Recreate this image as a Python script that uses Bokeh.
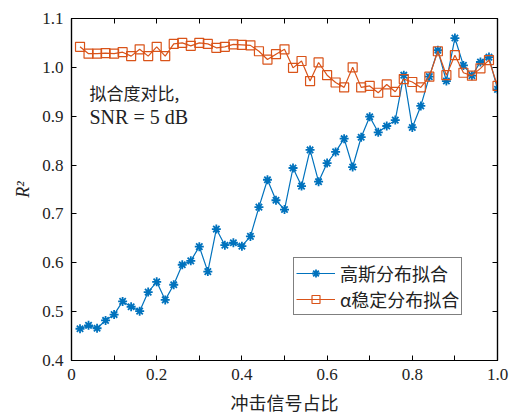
from bokeh.plotting import figure
from bokeh.models import Range1d, LinearAxis, FixedTicker, Label, Legend, LegendItem, CustomJSTickFormatter
from bokeh.embed import file_html
from bokeh.resources import INLINE

ratio = [0.02, 0.04, 0.06, 0.08, 0.10, 0.12, 0.14, 0.16, 0.18, 0.20,
         0.22, 0.24, 0.26, 0.28, 0.30, 0.32, 0.34, 0.36, 0.38, 0.40,
         0.42, 0.44, 0.46, 0.48, 0.50, 0.52, 0.54, 0.56, 0.58, 0.60,
         0.62, 0.64, 0.66, 0.68, 0.70, 0.72, 0.74, 0.76, 0.78, 0.80,
         0.82, 0.84, 0.86, 0.88, 0.90, 0.92, 0.94, 0.96, 0.98, 1.00]
gauss = [0.465, 0.472, 0.466, 0.482, 0.494, 0.521, 0.510, 0.501, 0.540, 0.561,
         0.524, 0.555, 0.596, 0.604, 0.633, 0.582, 0.669, 0.636, 0.641, 0.634,
         0.654, 0.714, 0.770, 0.728, 0.709, 0.794, 0.757, 0.831, 0.766, 0.804,
         0.827, 0.854, 0.796, 0.857, 0.899, 0.867, 0.880, 0.892, 0.984, 0.877,
         0.921, 0.981, 1.035, 0.972, 1.060, 1.004, 0.983, 1.011, 1.021, 0.955]
alpha_stable = [1.042, 1.028, 1.028, 1.029, 1.028, 1.031, 1.023, 1.037, 1.023, 1.042,
                1.023, 1.048, 1.050, 1.044, 1.050, 1.048, 1.040, 1.042, 1.047, 1.046,
                1.045, 1.033, 1.016, 1.027, 1.037, 0.999, 1.013, 0.972, 1.010, 0.984,
                0.969, 0.959, 1.000, 0.959, 0.962, 0.948, 0.965, 0.950, 0.976, 0.970,
                0.959, 0.981, 1.033, 0.984, 1.025, 0.989, 0.983, 0.998, 1.015, 0.962]
x_ticks = [0, 0.2, 0.4, 0.6, 0.8, 1.0]
x_minor = [0.1, 0.3, 0.5, 0.7, 0.9]
y_ticks = [0.4, 0.5, 0.6, 0.7, 0.8, 0.9, 1.0, 1.1]
x_tick_labels = {0: "0", 0.2: "0.2", 0.4: "0.4", 0.6: "0.6", 0.8: "0.8", 1.0: "1.0"}
y_tick_labels = {v: f"{v:.1f}" for v in y_ticks}
series_names = ["高斯分布拟合", "α稳定分布拟合"]

BLUE = "#0072BD"
ORANGE = "#D95319"
SERIF = "Liberation Serif"
CJK = "Noto Sans CJK SC"
TXT = "#222222"

p = figure(width=510, height=417, output_backend="svg", toolbar_location=None,
           x_range=Range1d(0, 1.0), y_range=Range1d(0.4, 1.1),
           min_border_left=71, min_border_right=13, min_border_top=18, min_border_bottom=54)
p.xgrid.visible = False
p.ygrid.visible = False
p.outline_line_color = "black"
p.outline_line_width = 1.2

for ax in [p.xaxis[0], p.yaxis[0]]:
    ax.major_tick_in = 5
    ax.major_tick_out = 0
    ax.minor_tick_in = 5
    ax.minor_tick_out = 0
    ax.axis_line_color = "black"
    ax.axis_line_width = 1.2
    ax.major_label_text_font = SERIF
    ax.major_label_text_font_size = "17px"
    ax.major_label_text_color = TXT
    ax.axis_label_text_font_style = "normal"
    ax.axis_label_text_color = TXT

p.xaxis[0].ticker = FixedTicker(ticks=x_ticks, minor_ticks=x_minor)
p.xaxis[0].major_label_overrides = x_tick_labels
p.xaxis[0].axis_label = "冲击信号占比"
p.xaxis[0].axis_label_text_font = CJK
p.xaxis[0].axis_label_text_font_size = "18px"
p.xaxis[0].axis_label_standoff = 6
p.xaxis[0].major_label_standoff = 8

p.yaxis[0].ticker = FixedTicker(ticks=y_ticks)
p.yaxis[0].major_label_overrides = y_tick_labels
p.yaxis[0].axis_label = "R²"
p.yaxis[0].axis_label_text_font = SERIF
p.yaxis[0].axis_label_text_font_style = "italic"
p.yaxis[0].axis_label_text_font_size = "18px"
p.yaxis[0].axis_label_standoff = 6
p.yaxis[0].major_label_standoff = 8

blank = CustomJSTickFormatter(code="return ''")
top = LinearAxis(ticker=FixedTicker(ticks=x_ticks, minor_ticks=x_minor), formatter=blank,
                 major_tick_in=5, major_tick_out=0, minor_tick_in=5, minor_tick_out=0,
                 major_label_standoff=0, axis_line_width=1.2)
right = LinearAxis(ticker=FixedTicker(ticks=y_ticks), formatter=blank,
                   major_tick_in=5, major_tick_out=0, minor_tick_in=0, minor_tick_out=0,
                   major_label_standoff=0, axis_line_width=1.2)
p.add_layout(top, "above")
p.add_layout(right, "right")

gl = p.line(ratio, gauss, line_color=BLUE, line_width=1.2)
gm = p.scatter(ratio, gauss, marker="asterisk", size=9, line_color=BLUE, line_width=1.8)
ol = p.line(ratio, alpha_stable, line_color=ORANGE, line_width=1.2)
om = p.scatter(ratio, alpha_stable, marker="square", size=9, line_color=ORANGE,
               fill_color=None, line_width=1.2)

legend = Legend(items=[LegendItem(label=series_names[0], renderers=[gl, gm]),
                       LegendItem(label=series_names[1], renderers=[ol, om])],
                location=(222, 45))
legend.label_text_font = CJK
legend.label_text_font_size = "18px"
legend.label_text_color = TXT
legend.border_line_color = "black"
legend.border_line_width = 1
legend.glyph_width = 39
legend.padding = 2
legend.spacing = 0
legend.margin = 0
legend.label_standoff = 5
p.add_layout(legend, "center")

lab1 = Label(x=18, y=256, x_units="screen", y_units="screen", text="拟合度对比,",
             text_font=CJK, text_font_size="17px", text_color=TXT)
lab2 = Label(x=18, y=233, x_units="screen", y_units="screen", text="SNR = 5 dB",
             text_font=SERIF, text_font_size="20px", text_color=TXT)
p.add_layout(lab1)
p.add_layout(lab2)

open("out.html", "w").write(file_html(p, INLINE))
